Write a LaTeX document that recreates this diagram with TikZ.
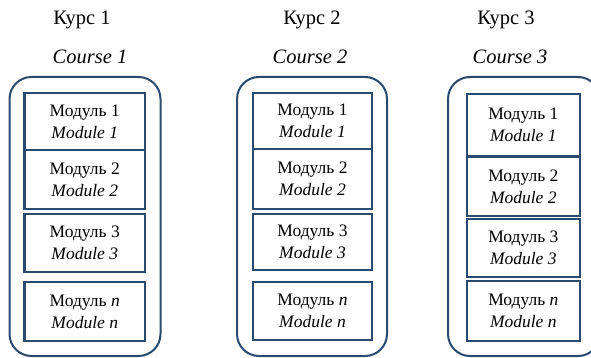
\documentclass[tikz,border=0pt]{standalone}
\usepackage{fontspec}
\setmainfont{Liberation Serif}[
  ItalicFont={Liberation Serif Italic},
  BoldFont={Liberation Serif Bold}]
\definecolor{navy}{HTML}{2B4A6F}
\tikzset{
  course/.style={
    draw=navy,
    line width=2pt,
    rounded corners=22pt,
    inner sep=0pt
  },
  module/.style={
    draw=navy,
    line width=2.6pt,
    fill=white,
    inner sep=0pt,
    align=center,
    font=\fontsize{17.5}{22}\selectfont
  },
  title/.style={
    inner sep=0pt,
    font=\fontsize{20.5}{24}\selectfont
  },
  subtitle/.style={
    inner sep=0pt,
    font=\fontsize{20.5}{24}\selectfont\itshape
  }
}

\begin{document}
\begin{tikzpicture}[x=1pt,y=-1pt]
  \useasboundingbox (0,0) rectangle (591,358);
  \clip (0,0) rectangle (591,358);

  % course 1
  \node [title] (Title1) at (82,20) {Курс 1};
  \node [subtitle] (Sub1) at (90,57) {Course 1};
  \node [course, minimum width=151pt, minimum height=279pt] (Course1) at (85,216.5) {};
  \node [module, minimum width=120.5pt, minimum height=57pt] (C1M1) at (84.75,121.5) {Модуль 1\\\textit{Module 1}};
  \node [module, minimum width=120.5pt, minimum height=59pt] (C1M2) at (84.75,179.5) {Модуль 2\\\textit{Module 2}};
  \node [module, minimum width=120.5pt, minimum height=58pt] (C1M3) at (84.75,243) {Модуль 3\\\textit{Module 3}};
  \node [module, minimum width=120.5pt, minimum height=59pt] (C1Mn) at (84.75,311.5) {Модуль \textit{n}\\\textit{Module n}};

  % course 2
  \node [title] (Title2) at (312,20) {Курс 2};
  \node [subtitle] (Sub2) at (310,57) {Course 2};
  \node [course, minimum width=150pt, minimum height=279pt] (Course2) at (312,216.5) {};
  \node [module, minimum width=119pt, minimum height=56pt] (C2M1) at (312.5,121) {Модуль 1\\\textit{Module 1}};
  \node [module, minimum width=119pt, minimum height=60pt] (C2M2) at (312.5,179) {Модуль 2\\\textit{Module 2}};
  \node [module, minimum width=119pt, minimum height=56pt] (C2M3) at (312.5,242) {Модуль 3\\\textit{Module 3}};
  \node [module, minimum width=119pt, minimum height=58pt] (C2Mn) at (312.5,311) {Модуль \textit{n}\\\textit{Module n}};

  % course 3 (runs past the right edge)
  \node [title] (Title3) at (506,20) {Курс 3};
  \node [subtitle] (Sub3) at (510,57) {Course 3};
  \node [course, minimum width=152pt, minimum height=279pt] (Course3) at (524,216.5) {};
  \node [module, minimum width=113pt, minimum height=62pt] (C3M1) at (523.3,125) {Модуль 1\\\textit{Module 1}};
  \node [module, minimum width=113pt, minimum height=59pt] (C3M2) at (523.3,186.5) {Модуль 2\\\textit{Module 2}};
  \node [module, minimum width=113pt, minimum height=58pt] (C3M3) at (523.3,248) {Модуль 3\\\textit{Module 3}};
  \node [module, minimum width=113pt, minimum height=60pt] (C3Mn) at (523.3,311) {Модуль \textit{n}\\\textit{Module n}};
\end{tikzpicture}
\end{document}
